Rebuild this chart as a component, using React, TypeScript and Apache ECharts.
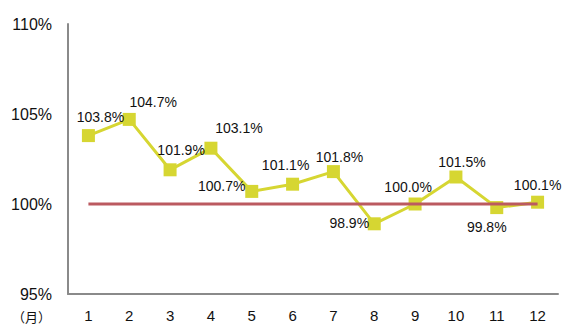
import React, { useEffect, useRef } from "react";
import * as echarts from "echarts";

// Monthly ratio (%) against the 100% reference level
const months = ["1", "2", "3", "4", "5", "6", "7", "8", "9", "10", "11", "12"];
const ratios = [103.8, 104.7, 101.9, 103.1, 100.7, 101.1, 101.8, 98.9, 100.0, 101.5, 99.8, 100.1];
const baseline = [100, 100, 100, 100, 100, 100, 100, 100, 100, 100, 100, 100];
const yTicks = { min: 95, max: 110, interval: 5 };

// Label offsets (px) relative to each marker centre
const labelOffsets: [number, number][] = [
  [12, -19], [24, -17], [11, -20], [28, -20], [-30, -5], [-7, -19],
  [6, -15], [-25, -1], [-7, -17], [6, -15], [-10, 19], [0, -17],
];

export default function App() {
  const ref = useRef<HTMLDivElement>(null);

  useEffect(() => {
    if (!ref.current) return;
    const chart = echarts.init(ref.current, null, { renderer: "svg" });
    const font = "'Liberation Sans', Arial, sans-serif";
    chart.setOption({
      animation: false,
      backgroundColor: "#ffffff",
      grid: { left: 68, right: 4, top: 24, bottom: 33 },
      xAxis: {
        type: "category",
        data: months,
        boundaryGap: true,
        axisLine: { lineStyle: { color: "#8a8a8a", width: 2 } },
        axisTick: { show: false },
        axisLabel: { color: "#111", fontSize: 15, fontFamily: font, margin: 14 },
      },
      yAxis: {
        type: "value",
        min: yTicks.min,
        max: yTicks.max,
        interval: yTicks.interval,
        axisLine: { show: true, lineStyle: { color: "#8a8a8a", width: 2 } },
        axisTick: { show: false },
        splitLine: { show: false },
        axisLabel: {
          color: "#111",
          fontSize: 16,
          fontFamily: font,
          margin: 16,
          formatter: (v: number) => `${v}%`,
        },
      },
      series: [
        {
          type: "line",
          data: ratios.map((v, i) => ({
            value: v,
            label: {
              show: true,
              position: "inside",
              offset: labelOffsets[i],
              formatter: `${v.toFixed(1)}%`,
              color: "#111",
              fontSize: 14,
              fontFamily: font,
            },
          })),
          symbol: "rect",
          symbolSize: 13,
          itemStyle: { color: "#d6d632" },
          lineStyle: { color: "#d6d632", width: 3 },
          z: 2,
        },
        {
          type: "line",
          data: baseline,
          symbol: "none",
          lineStyle: { color: "#bb5a60", width: 3 },
          z: 3,
        },
      ],
      graphic: [
        {
          type: "text",
          left: 12,
          top: 310,
          style: {
            text: "（月）",
            fill: "#111",
            fontSize: 13,
            fontFamily: "'Noto Sans CJK JP', sans-serif",
          },
        },
      ],
    });
    return () => chart.dispose();
  }, []);

  return (
    <div
      ref={ref}
      style={{ position: "fixed", left: 0, top: 0, width: 562, height: 327 }}
    />
  );
}
